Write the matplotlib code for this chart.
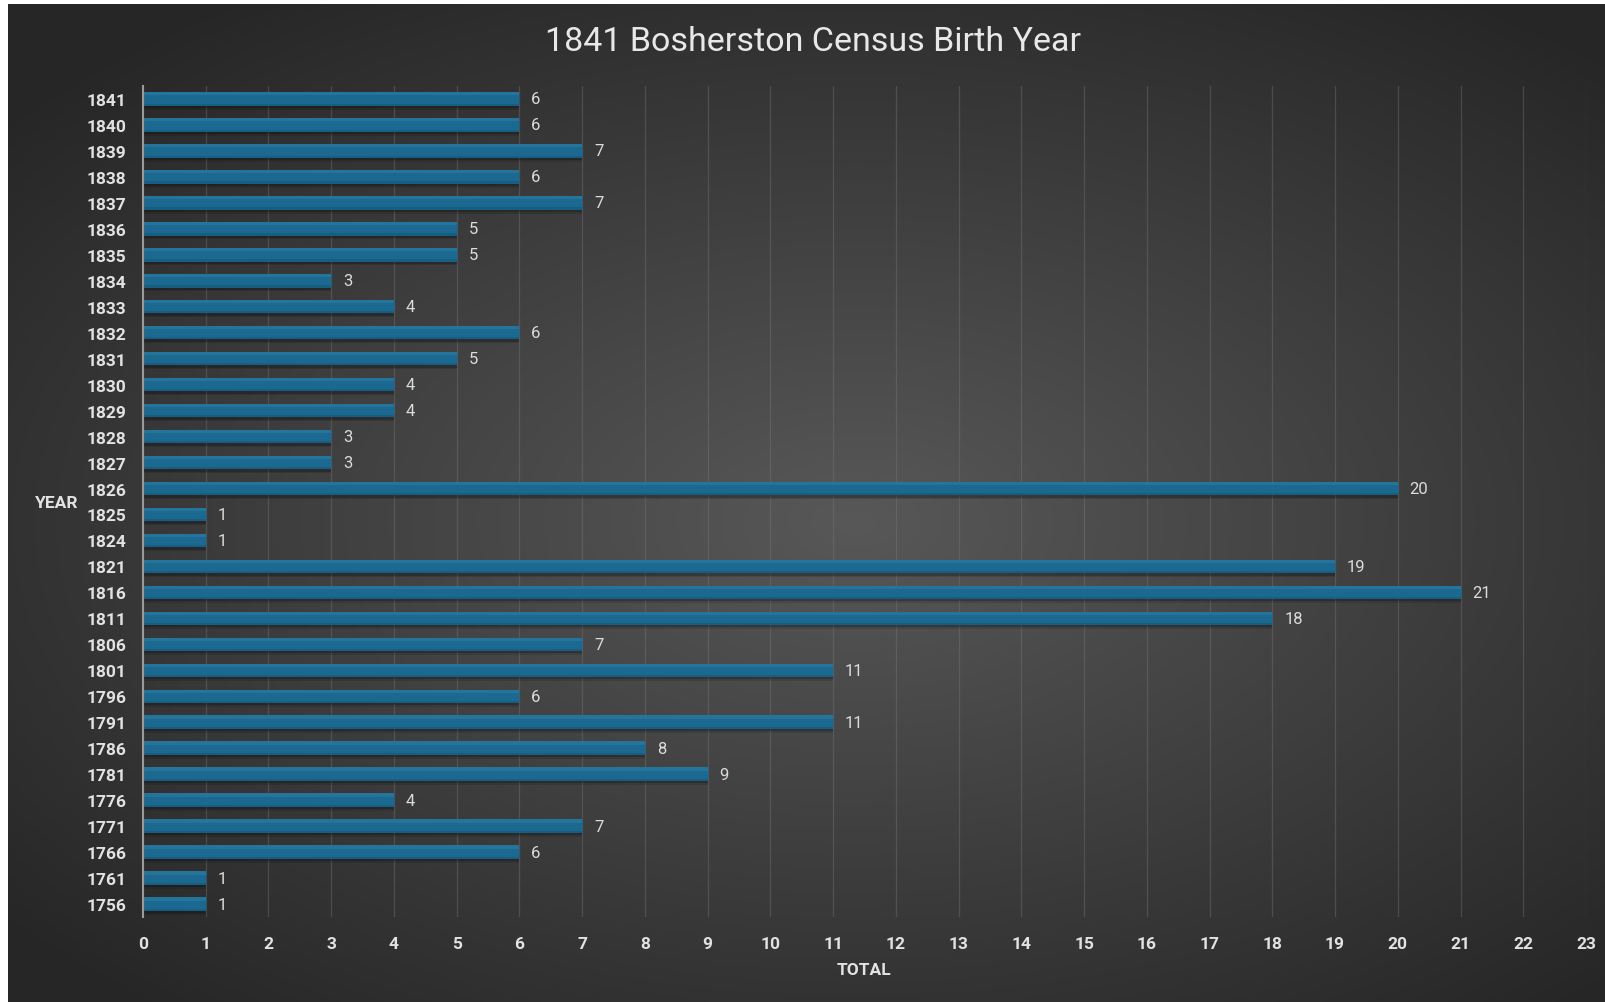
import numpy as np
import matplotlib
matplotlib.use("Agg")
import matplotlib.pyplot as plt

years = ["1841", "1840", "1839", "1838", "1837", "1836", "1835", "1834", "1833",
         "1832", "1831", "1830", "1829", "1828", "1827", "1826", "1825", "1824",
         "1821", "1816", "1811", "1806", "1801", "1796", "1791", "1786", "1781",
         "1776", "1771", "1766", "1761", "1756"]
totals = [6, 6, 7, 6, 7, 5, 5, 3, 4, 6, 5, 4, 4, 3, 3, 20, 1, 1,
          19, 21, 18, 7, 11, 6, 11, 8, 9, 4, 7, 6, 1, 1]
x_ticks = list(range(0, 24))
title = "1841 Bosherston Census Birth Year"

FONT = "Roboto"

W, H = 1605, 1003
fig = plt.figure(figsize=(W / 100, H / 100), dpi=100, facecolor="white")

# background radial gradient
bg = fig.add_axes([8 / W, 0, 1 - 8 / W, 1 - 5 / H])
bg.set_axis_off()
yy, xx = np.mgrid[0:1:400j, 0:1:640j]
d = np.sqrt(((xx - 0.53) / 0.78) ** 2 + ((yy - 0.52) / 0.72) ** 2)
v = np.clip(0.345 - 0.22 * d, 0.15, 0.35)
img = np.dstack([v, v, v])
bg.imshow(img, aspect="auto", extent=[0, 1, 0, 1], interpolation="bilinear")

ax = fig.add_axes([143 / W, 1 - 918 / H, (1586 - 143) / W, (918 - 87) / H])
ax.patch.set_alpha(0)

n = len(years)
pos = np.arange(n)
h = 0.52
# soft shadow below bars
ax.barh(pos + 0.09, totals, height=h, color="black", alpha=0.2, zorder=2, linewidth=0)
ax.barh(pos + 0.15, totals, height=h, color="black", alpha=0.12, zorder=2, linewidth=0)
ax.barh(pos, totals, height=h, color="#1b6991", zorder=3, linewidth=0)
ax.barh(pos - h * 0.38, totals, height=h * 0.24, color="#3a8ab2", alpha=0.35, zorder=3, linewidth=0)
ax.barh(pos + h * 0.42, totals, height=h * 0.16, color="#114f6f", alpha=0.4, zorder=3, linewidth=0)

for p, v_ in zip(pos, totals):
    ax.text(v_ + 0.19, p, str(v_), va="center", ha="left", color="#dcdcdc",
            fontsize=12, family=FONT, zorder=4)

ax.set_ylim(n - 0.5, -0.5)
ax.set_xlim(0, 23)
ax.set_xticks(x_ticks)
ax.set_yticks(pos)
ax.set_yticklabels(years)
ax.grid(axis="x", color="#7a7a7a", linewidth=0.9, alpha=0.38, zorder=1)
ax.set_axisbelow(True)
for s in ["top", "right", "bottom"]:
    ax.spines[s].set_visible(False)
ax.spines["left"].set_color("#9a9a9a")
ax.spines["left"].set_linewidth(1.5)
ax.spines["left"].set_zorder(5)
ax.tick_params(axis="both", length=0, colors="#e0e0e0")
ax.tick_params(axis="y", pad=12)
ax.tick_params(axis="x", pad=14)
for lab in ax.get_xticklabels() + ax.get_yticklabels():
    lab.set_fontfamily(FONT)
    lab.set_fontweight("bold")
    lab.set_fontsize(12.5)
    lab.set_color("#e2e2e2")

fig.text(57 / W, 1 - 503 / H, "YEAR", ha="center", va="center", color="#e2e2e2",
         fontsize=12.5, fontweight="bold", family=FONT)
fig.text(864 / W, 1 - 971 / H, "TOTAL", ha="center", va="center", color="#e2e2e2",
         fontsize=12.5, fontweight="bold", family=FONT)
fig.text(813 / W, 1 - 42 / H, title, ha="center", va="center", color="#e8e8e8",
         fontsize=24.5, family=FONT)

fig.savefig("out.png", dpi=100, facecolor=fig.get_facecolor())
